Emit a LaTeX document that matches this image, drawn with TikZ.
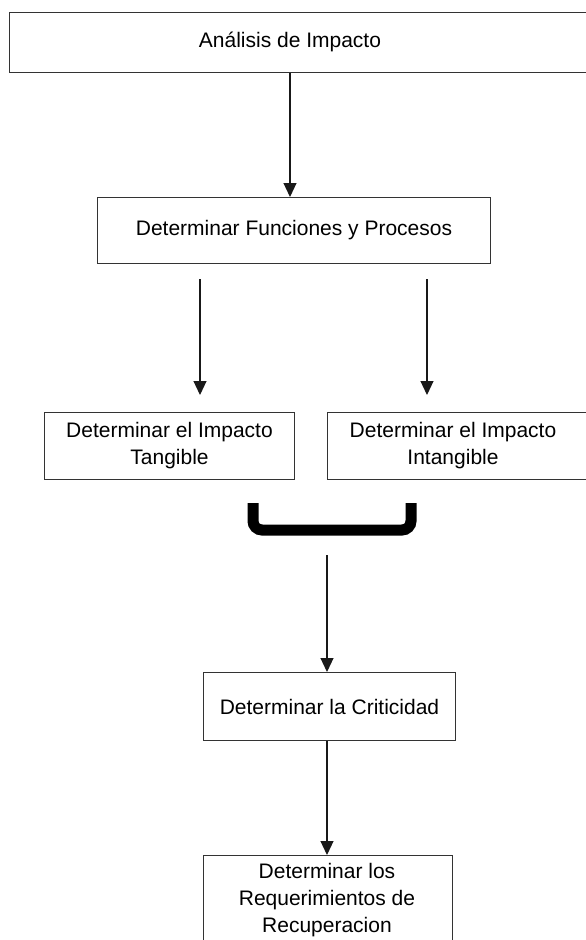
\documentclass[tikz,border=0pt]{standalone}
\usepackage{fontspec}
\setmainfont{Liberation Sans}
\usetikzlibrary{arrows.meta}
\begin{document}
\begin{tikzpicture}[x=1pt,y=-1pt,
  boxframe/.style={draw=black!80, line width=1pt, inner sep=0pt, anchor=north west, rectangle},
  lbl/.style={font=\fontsize{21}{27}\selectfont, align=center, inner sep=0pt},
  boxtext/.style={boxframe, font=\fontsize{21}{27}\selectfont, align=center},
  arr/.style={-{Triangle[length=14pt,width=13pt]}, line width=1.1pt, draw=black!90, fill=black},
  bracket/.style={line width=11pt, rounded corners=9pt, draw=black}]
\useasboundingbox (0,0) rectangle (586,940);
\clip (0,0) rectangle (586,940);
% top box
\node[boxframe, minimum width=600pt, minimum height=60pt] (analisis) at (9,12) {};
\node[lbl] (analisisT) at (290,42) {Análisis de Impacto};
% funciones
\node[boxtext, minimum width=393pt, minimum height=66pt] (funciones) at (97,197) {Determinar Funciones y Procesos};
% impacto boxes
\node[boxtext, minimum width=250pt, minimum height=67pt] (tangible) at (44,412) {Determinar el Impacto\\Tangible};
\node[boxframe, minimum width=280pt, minimum height=67pt] (intangible) at (327,412) {};
\node[lbl] (intangibleT) at (453,446) {Determinar el Impacto\\Intangible};
% criticidad
\node[boxtext, minimum width=252pt, minimum height=68pt] (criticidad) at (203,672) {Determinar la Criticidad};
% requerimientos
\node[boxframe, minimum width=249pt, minimum height=120pt] (req) at (203,855) {};
\node[lbl] (reqT) at (327,900) {Determinar los\\Requerimientos de\\Recuperacion};
% coordinates for free connector ends
\coordinate (f1) at (200,279);
\coordinate (t1) at (200,395);
\coordinate (f2) at (427,279);
\coordinate (t2) at (427,395);
\coordinate (c1) at (327,555);
% connectors
\draw[arr] (analisisT |- analisis.south) -- (analisisT |- funciones.north);
\draw[arr] (f1) -- (t1);
\draw[arr] (f2) -- (t2);
\draw[bracket] (253,503) -- (253,530) -- (411,530) -- (411,503);
\draw[arr] (c1) -- (c1 |- criticidad.north);
\draw[arr] (c1 |- criticidad.south) -- (c1 |- req.north);
\end{tikzpicture}
\end{document}
